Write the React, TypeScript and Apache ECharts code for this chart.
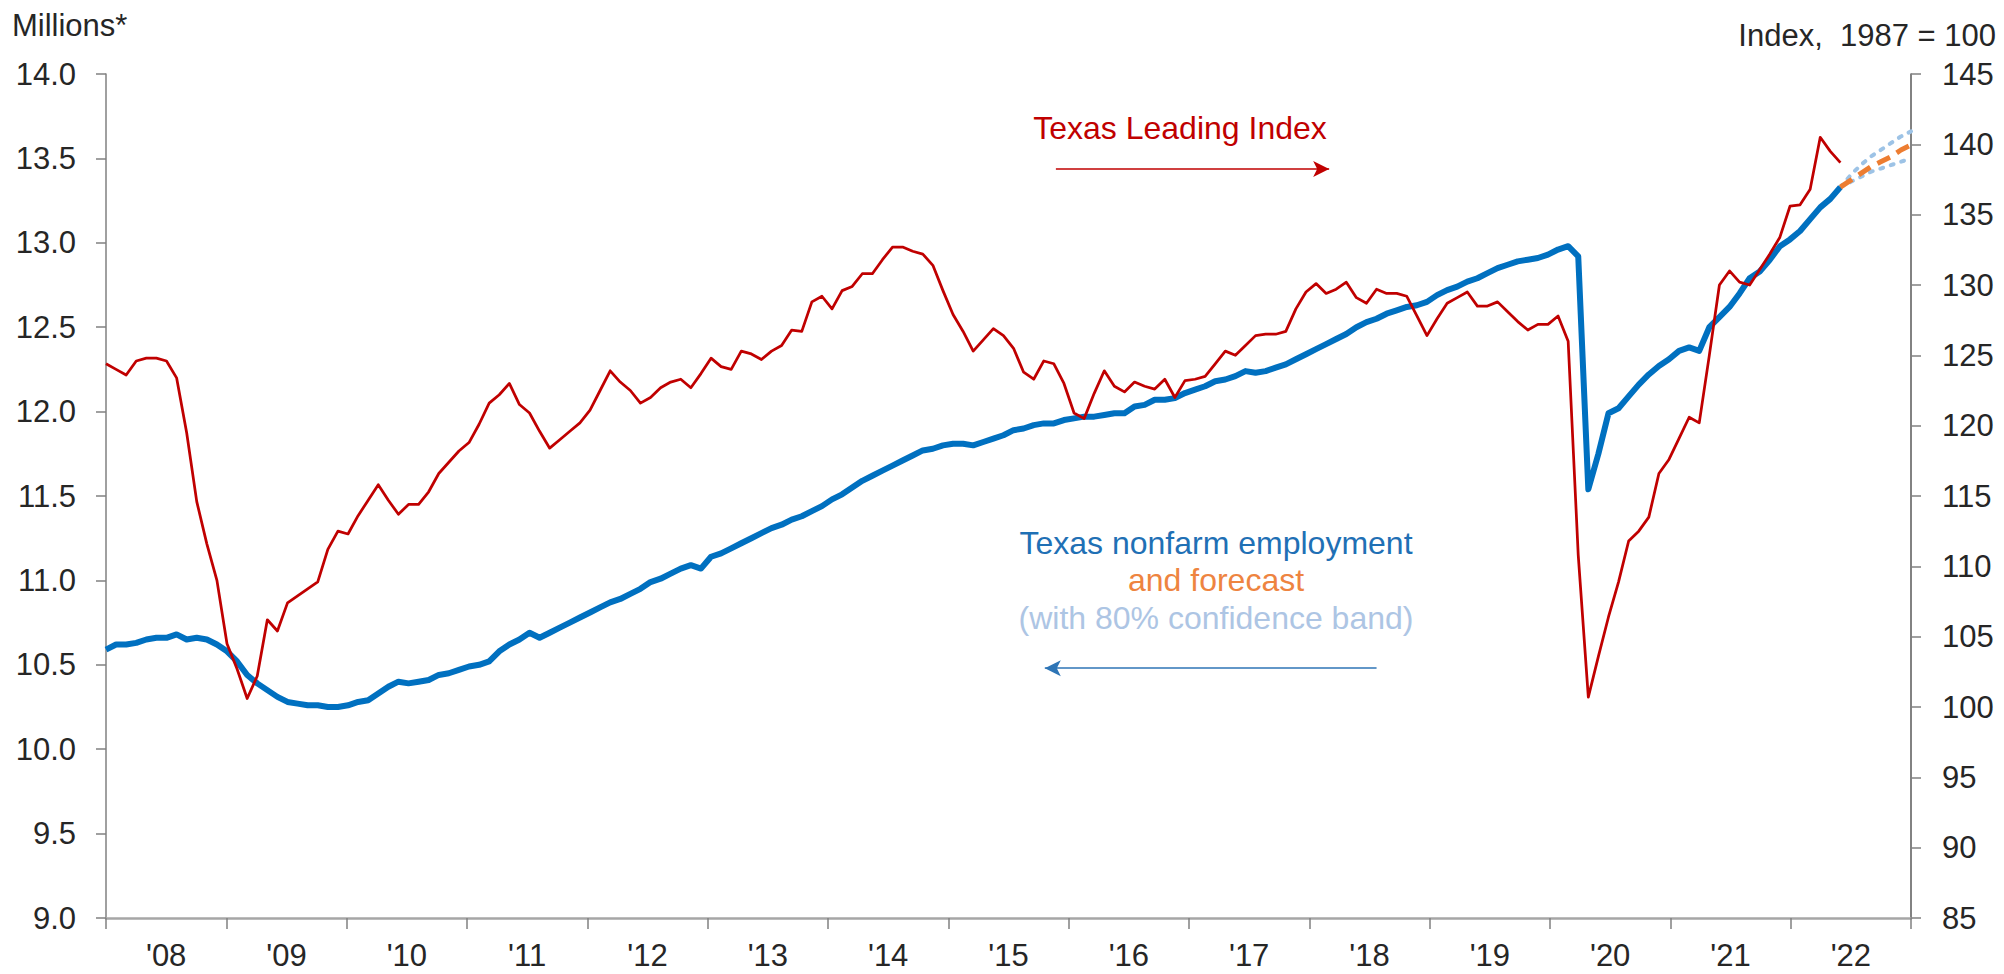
import React, { useEffect, useRef } from "react";
import * as echarts from "echarts";

// Month index 0 = Jan 2008 ... 179 = Dec 2022
const yearLabels = ["'08", "'09", "'10", "'11", "'12", "'13", "'14", "'15", "'16", "'17", "'18", "'19", "'20", "'21", "'22"];

// Texas nonfarm employment, millions (left axis), Jan 2008 onward
const employment = [
  10.59, 10.62, 10.62, 10.63, 10.65, 10.66, 10.66, 10.68, 10.65, 10.66, 10.65, 10.62,
  10.58, 10.52, 10.44, 10.39, 10.35, 10.31, 10.28, 10.27, 10.26, 10.26, 10.25, 10.25,
  10.26, 10.28, 10.29, 10.33, 10.37, 10.40, 10.39, 10.40, 10.41, 10.44, 10.45, 10.47,
  10.49, 10.50, 10.52, 10.58, 10.62, 10.65, 10.69, 10.66, 10.69, 10.72, 10.75, 10.78,
  10.81, 10.84, 10.87, 10.89, 10.92, 10.95, 10.99, 11.01, 11.04, 11.07, 11.09, 11.07,
  11.14, 11.16, 11.19, 11.22, 11.25, 11.28, 11.31, 11.33, 11.36, 11.38, 11.41, 11.44,
  11.48, 11.51, 11.55, 11.59, 11.62, 11.65, 11.68, 11.71, 11.74, 11.77, 11.78, 11.80,
  11.81, 11.81, 11.80, 11.82, 11.84, 11.86, 11.89, 11.90, 11.92, 11.93, 11.93, 11.95,
  11.96, 11.97, 11.97, 11.98, 11.99, 11.99, 12.03, 12.04, 12.07, 12.07, 12.08, 12.11,
  12.13, 12.15, 12.18, 12.19, 12.21, 12.24, 12.23, 12.24, 12.26, 12.28, 12.31, 12.34,
  12.37, 12.40, 12.43, 12.46, 12.50, 12.53, 12.55, 12.58, 12.60, 12.62, 12.63, 12.65,
  12.69, 12.72, 12.74, 12.77, 12.79, 12.82, 12.85, 12.87, 12.89, 12.90, 12.91, 12.93,
  12.96, 12.98, 12.92, 11.54, 11.75, 11.99, 12.02, 12.09, 12.16, 12.22, 12.27, 12.31,
  12.36, 12.38, 12.36, 12.50, 12.56, 12.62, 12.70, 12.79, 12.83, 12.90, 12.98, 13.02,
  13.07, 13.14, 13.21, 13.26, 13.33,
];

// Texas Leading Index, 1987 = 100 (right axis), Jan 2008 onward
const leadingIndex = [
  124.4, 124.0, 123.6, 124.6, 124.8, 124.8, 124.6, 123.4, 119.5, 114.6, 111.6, 109.0,
  104.5, 102.7, 100.6, 102.2, 106.2, 105.4, 107.4, 107.9, 108.4, 108.9, 111.2, 112.5,
  112.3, 113.6, 114.7, 115.8, 114.7, 113.7, 114.4, 114.4, 115.3, 116.6, 117.4, 118.2,
  118.8, 120.1, 121.6, 122.2, 123.0, 121.5, 120.9, 119.6, 118.4, 119.0, 119.6, 120.2,
  121.1, 122.5, 123.9, 123.1, 122.5, 121.6, 122.0, 122.7, 123.1, 123.3, 122.7, 123.7,
  124.8, 124.2, 124.0, 125.3, 125.1, 124.7, 125.3, 125.7, 126.8, 126.7, 128.8, 129.2,
  128.3, 129.6, 129.9, 130.8, 130.8, 131.8, 132.7, 132.7, 132.4, 132.2, 131.4, 129.6,
  127.9, 126.7, 125.3, 126.1, 126.9, 126.4, 125.5, 123.8, 123.3, 124.6, 124.4, 123.0,
  120.9, 120.5, 122.3, 123.9, 122.8, 122.4, 123.1, 122.8, 122.6, 123.3, 122.0, 123.2,
  123.3, 123.5, 124.4, 125.3, 125.0, 125.7, 126.4, 126.5, 126.5, 126.7, 128.3, 129.5,
  130.1, 129.4, 129.7, 130.2, 129.1, 128.7, 129.7, 129.4, 129.4, 129.2, 127.8, 126.4,
  127.6, 128.7, 129.1, 129.5, 128.5, 128.5, 128.8, 128.1, 127.4, 126.8, 127.2, 127.2,
  127.8, 126.0, 110.8, 100.7, 103.6, 106.4, 108.9, 111.8, 112.5, 113.5, 116.6, 117.6,
  119.1, 120.6, 120.2, 125.0, 130.0, 131.0, 130.2, 130.0, 131.1, 132.2, 133.4, 135.6,
  135.7, 136.8, 140.5, 139.5, 138.7,
];

// Forecast (May 2022 - Dec 2022), millions
const forecastStart = 172;
const forecast = [13.33, 13.37, 13.41, 13.45, 13.48, 13.51, 13.55, 13.58];
const bandUpper = [13.33, 13.40, 13.46, 13.51, 13.55, 13.59, 13.63, 13.66];
const bandLower = [13.33, 13.36, 13.39, 13.42, 13.44, 13.46, 13.48, 13.50];

// Annotation arrows in data space: [fromMonth, toMonth, level]
const leadingArrow = [94.2, 121.3, 138.25];
const employmentArrow = [126.0, 93.1, 10.48];

const FONT = "'Liberation Sans', Arial, Helvetica, sans-serif";
const TEXT = "#262626";

export default function App() {
  const ref = useRef<HTMLDivElement>(null);

  useEffect(() => {
    document.body.style.margin = "0";
    if (!ref.current) return;
    const chart = echarts.init(ref.current, undefined, { renderer: "svg" });

    const toPairs = (arr: number[], start: number) => arr.map((v, i) => [start + i, v]);

    const option: any = {
      animation: false,
      backgroundColor: "#ffffff",
      textStyle: { fontFamily: FONT },
      grid: { left: 106, right: 93, top: 74, bottom: 56, containLabel: false },
      xAxis: [
        { type: "value", min: 0, max: 179, show: false },
        {
          type: "category",
          data: yearLabels,
          boundaryGap: true,
          position: "bottom",
          axisLine: { show: true, lineStyle: { color: "#A6A6A6", width: 2.5 } },
          axisTick: { show: true, interval: 0, length: 11, lineStyle: { color: "#808080", width: 1.5 } },
          axisLabel: { interval: 0, fontSize: 31, color: TEXT, margin: 22, fontFamily: FONT },
          splitLine: { show: false },
        },
      ],
      yAxis: [
        {
          type: "value",
          position: "left",
          min: 9,
          max: 14,
          interval: 0.5,
          axisLine: { show: true, lineStyle: { color: "#808080", width: 1.5 } },
          axisTick: { show: true, length: 10, lineStyle: { color: "#808080", width: 1.5 } },
          splitLine: { show: false },
          axisLabel: {
            fontSize: 31,
            color: TEXT,
            margin: 30,
            fontFamily: FONT,
            formatter: (v: number) => v.toFixed(1),
          },
        },
        {
          type: "value",
          position: "right",
          min: 85,
          max: 145,
          interval: 5,
          axisLine: { show: true, lineStyle: { color: "#595959", width: 1.5 } },
          axisTick: { show: true, length: 10, lineStyle: { color: "#808080", width: 1.5 } },
          splitLine: { show: false },
          axisLabel: { fontSize: 31, color: TEXT, margin: 31, fontFamily: FONT },
        },
      ],
      series: [
        {
          name: "Band upper",
          type: "line",
          xAxisIndex: 0,
          yAxisIndex: 0,
          data: toPairs(bandUpper, forecastStart),
          showSymbol: false,
          z: 2,
          lineStyle: { color: "#9DC3E6", width: 4, type: [3, 8], cap: "round" },
        },
        {
          name: "Band lower",
          type: "line",
          xAxisIndex: 0,
          yAxisIndex: 0,
          data: toPairs(bandLower, forecastStart),
          showSymbol: false,
          z: 2,
          lineStyle: { color: "#9DC3E6", width: 4, type: [3, 8], cap: "round" },
        },
        {
          name: "Texas nonfarm employment",
          type: "line",
          xAxisIndex: 0,
          yAxisIndex: 0,
          data: toPairs(employment, 0),
          showSymbol: false,
          z: 3,
          lineStyle: { color: "#0070C0", width: 6, join: "round" },
          markLine: {
            silent: true,
            symbol: ["none", "arrow"],
            symbolSize: [12, 16],
            label: { show: false },
            lineStyle: { color: "#2E75B6", width: 1.5, type: "solid" },
            data: [
              [
                { coord: [employmentArrow[0], employmentArrow[2]] },
                { coord: [employmentArrow[1], employmentArrow[2]] },
              ],
            ],
          },
        },
        {
          name: "Forecast",
          type: "line",
          xAxisIndex: 0,
          yAxisIndex: 0,
          data: toPairs(forecast, forecastStart),
          showSymbol: false,
          z: 4,
          lineStyle: { color: "#ED7D31", width: 5, type: [14, 8] },
        },
        {
          name: "Texas Leading Index",
          type: "line",
          xAxisIndex: 0,
          yAxisIndex: 1,
          data: toPairs(leadingIndex, 0),
          showSymbol: false,
          z: 5,
          lineStyle: { color: "#C00000", width: 2.75, join: "round" },
          markLine: {
            silent: true,
            symbol: ["none", "arrow"],
            symbolSize: [12, 16],
            label: { show: false },
            lineStyle: { color: "#C00000", width: 1.5, type: "solid" },
            data: [
              [
                { coord: [leadingArrow[0], leadingArrow[2]] },
                { coord: [leadingArrow[1], leadingArrow[2]] },
              ],
            ],
          },
        },
      ],
      graphic: [
        {
          type: "text",
          x: 12,
          y: 25,
          style: { text: "Millions*", fill: TEXT, fontSize: 31, fontFamily: FONT, align: "left", verticalAlign: "middle" },
        },
        {
          type: "text",
          x: 1996,
          y: 35,
          style: { text: "Index,  1987 = 100", fill: TEXT, fontSize: 31, fontFamily: FONT, align: "right", verticalAlign: "middle" },
        },
        {
          type: "text",
          x: 1180,
          y: 128,
          style: { text: "Texas Leading Index", fill: "#C00000", fontSize: 32, fontFamily: FONT, align: "center", verticalAlign: "middle" },
        },
        {
          type: "text",
          x: 1216,
          y: 543,
          style: { text: "Texas nonfarm employment", fill: "#1F70B5", fontSize: 32, fontFamily: FONT, align: "center", verticalAlign: "middle" },
        },
        {
          type: "text",
          x: 1216,
          y: 580,
          style: { text: "and forecast", fill: "#EE8440", fontSize: 32, fontFamily: FONT, align: "center", verticalAlign: "middle" },
        },
        {
          type: "text",
          x: 1216,
          y: 618,
          style: { text: "(with 80% confidence band)", fill: "#ADC5E4", fontSize: 32, fontFamily: FONT, align: "center", verticalAlign: "middle" },
        },
      ],
    };

    chart.setOption(option);
    return () => chart.dispose();
  }, []);

  return <div ref={ref} style={{ width: 2004, height: 974 }} />;
}
